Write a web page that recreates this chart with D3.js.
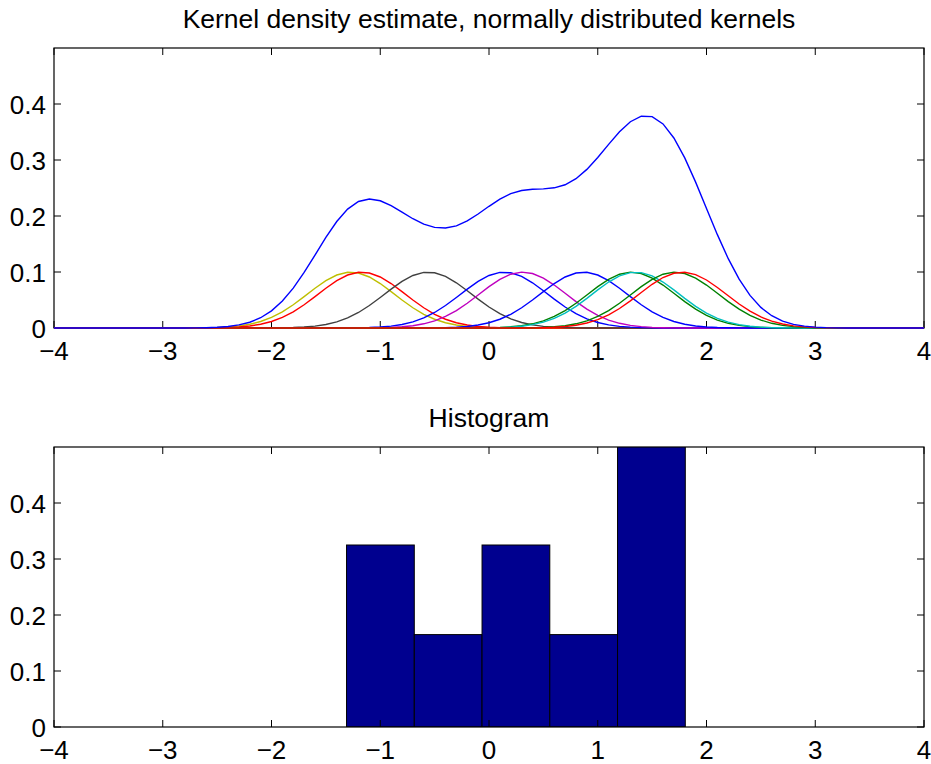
<!DOCTYPE html>
<html>
<head>
<meta charset="utf-8">
<script src="https://cdn.jsdelivr.net/npm/d3@7"></script>
<style>
  body { margin: 0; background: #fff; }
  svg { display: block; font-family: "Liberation Sans", Arial, sans-serif; }
</style>
</head>
<body>
<svg id="chart" width="931" height="764"></svg>
<script>
// Sample points, one Gaussian kernel per point
const samples = [-1.27, -1.17, -0.56, 0.14, 0.31, 0.87, 1.31, 1.35, 1.71, 1.78];
// MATLAB line colour order: b g r c m y k, repeated; mapped to the kernels above
const kernelColors = ["#bfbf00", "#ff0000", "#404040", "#0000ff", "#bf00bf",
                      "#0000ff", "#008000", "#00bfbf", "#008000", "#ff0000"];
const bandwidth = 0.4;
const gridStep = 0.1;

// Histogram bins (edges) and bar heights (density)
const binEdges = [-1.31, -0.687, -0.064, 0.559, 1.182, 1.805];
const binHeights = [0.325, 0.165, 0.325, 0.165, 0.65];

const xTicks = [-4, -3, -2, -1, 0, 1, 2, 3, 4];
const yTicks = [0, 0.1, 0.2, 0.3, 0.4];
const titles = ["Kernel density estimate, normally distributed kernels", "Histogram"];

const svg = d3.select("#chart");
const left = 54, right = 924;
const panels = [{ top: 48, bottom: 328 }, { top: 447, bottom: 727 }];
const fontSize = 26;

const x = d3.scaleLinear().domain([-4, 4]).range([left, right]);

const grid = d3.range(0, 81).map(i => -4 + i * gridStep);
const n = samples.length;
const kernel = (u, c) => Math.exp(-0.5 * ((u - c) / bandwidth) ** 2) /
  (n * bandwidth * Math.sqrt(2 * Math.PI));

function drawAxes(g, y, p) {
  // box
  g.append("rect").attr("x", left).attr("y", p.top)
    .attr("width", right - left).attr("height", p.bottom - p.top)
    .attr("fill", "none").attr("stroke", "#000").attr("stroke-width", 1.2);
  const tl = 7;
  xTicks.forEach(t => {
    g.append("line").attr("x1", x(t)).attr("x2", x(t))
      .attr("y1", p.bottom).attr("y2", p.bottom - tl).attr("stroke", "#000");
    g.append("line").attr("x1", x(t)).attr("x2", x(t))
      .attr("y1", p.top).attr("y2", p.top + tl).attr("stroke", "#000");
    g.append("text").attr("x", x(t)).attr("y", p.bottom + 32)
      .attr("text-anchor", "middle").attr("font-size", fontSize)
      .text(t < 0 ? "\u2212" + Math.abs(t) : String(t));
  });
  yTicks.forEach(t => {
    g.append("line").attr("x1", left).attr("x2", left + tl)
      .attr("y1", y(t)).attr("y2", y(t)).attr("stroke", "#000");
    g.append("line").attr("x1", right).attr("x2", right - tl)
      .attr("y1", y(t)).attr("y2", y(t)).attr("stroke", "#000");
    g.append("text").attr("x", left - 8).attr("y", y(t) + 9.5)
      .attr("text-anchor", "end").attr("font-size", fontSize)
      .text(t === 0 ? "0" : String(t));
  });
}

// --- Top: kernel density estimate ---
{
  const p = panels[0];
  const y = d3.scaleLinear().domain([0, 0.5]).range([p.bottom, p.top]);
  const g = svg.append("g");
  const line = d3.line().x(d => x(d[0])).y(d => y(d[1]));
  drawAxes(g, y, p);
  samples.forEach((c, i) => {
    g.append("path").datum(grid.map(u => [u, kernel(u, c)]))
      .attr("d", line).attr("fill", "none")
      .attr("stroke", kernelColors[i]).attr("stroke-width", 1.4);
  });
  g.append("path")
    .datum(grid.map(u => [u, d3.sum(samples, c => kernel(u, c))]))
    .attr("d", line).attr("fill", "none")
    .attr("stroke", "#0000ff").attr("stroke-width", 1.4);
  g.append("text").attr("x", (left + right) / 2).attr("y", p.top - 20)
    .attr("text-anchor", "middle").attr("font-size", 26.5).text(titles[0]);
}

// --- Bottom: histogram ---
{
  const p = panels[1];
  const y = d3.scaleLinear().domain([0, 0.5]).range([p.bottom, p.top]);
  const g = svg.append("g");
  svg.append("defs").append("clipPath").attr("id", "histClip")
    .append("rect").attr("x", left).attr("y", p.top)
    .attr("width", right - left).attr("height", p.bottom - p.top);
  g.append("g").attr("clip-path", "url(#histClip)")
    .selectAll("rect").data(binHeights).join("rect")
    .attr("x", (d, i) => x(binEdges[i]))
    .attr("width", (d, i) => x(binEdges[i + 1]) - x(binEdges[i]))
    .attr("y", d => y(d))
    .attr("height", d => y(0) - y(d))
    .attr("fill", "#00008f").attr("stroke", "#000").attr("stroke-width", 1);
  drawAxes(g, y, p);
  g.append("text").attr("x", (left + right) / 2).attr("y", p.top - 20)
    .attr("text-anchor", "middle").attr("font-size", 26.5).text(titles[1]);
}
</script>
</body>
</html>
